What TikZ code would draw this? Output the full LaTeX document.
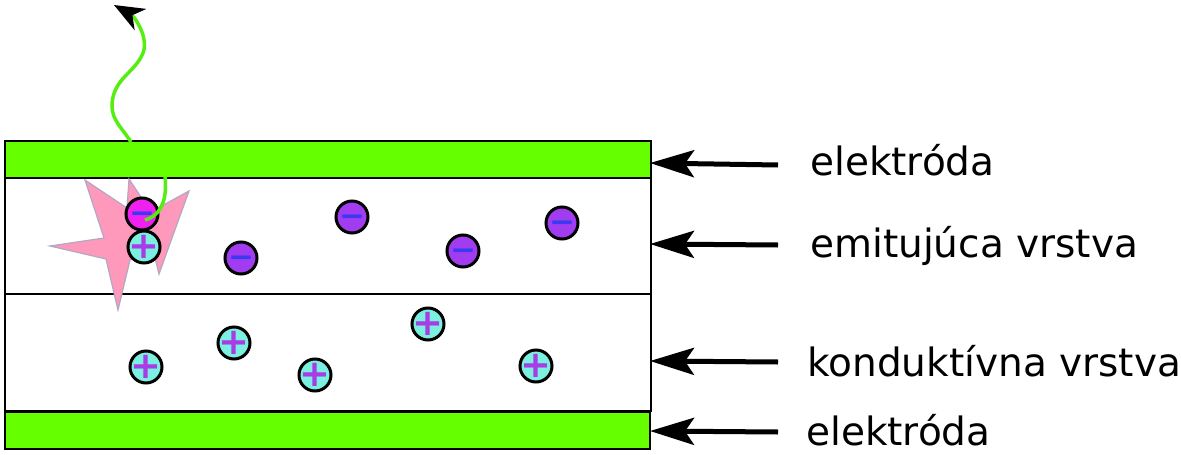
\documentclass[tikz,border=0pt]{standalone}
\usepackage{fontspec}
\setmainfont{DejaVu Sans}
\usetikzlibrary{arrows.meta}
\definecolor{elecgreen}{HTML}{66FF00}
\definecolor{wavegreen}{HTML}{55EE11}
\definecolor{flashpink}{HTML}{FF99BB}
\definecolor{flashedge}{HTML}{B0A8C4}
\definecolor{negfill}{HTML}{A23CF0}
\definecolor{negsign}{HTML}{3A3AF0}
\definecolor{posfill}{HTML}{7CF0E0}
\definecolor{possign}{HTML}{A83CE6}
\definecolor{hotfill}{HTML}{F020F0}
\newcommand{\sgn}[1]{\makebox[0pt]{\raisebox{-0.313em}[0pt][0pt]{#1}}}
\tikzset{
  electrode/.style={draw=black, line width=2.2pt, fill=elecgreen, inner sep=0pt, minimum height=37pt},
  layer/.style={draw=black, line width=1.8pt, fill=white, inner sep=0pt, minimum width=646pt, minimum height=117pt},
  charge/.style={draw=black, circle, line width=3pt, inner sep=0pt, minimum size=32pt},
  negq/.style={charge, fill=negfill, text=negsign, font=\fontsize{31}{31}\bfseries},
  posq/.style={charge, fill=posfill, text=possign, font=\fontsize{37}{37}\bfseries},
  lbl/.style={anchor=base west, inner sep=0pt, font=\fontsize{39}{40}\selectfont},
  pointer/.style={draw=black, line width=5pt, -{Stealth[length=44pt, width=27pt, inset=9pt]}},
  wave/.style={draw=wavegreen, line width=3.5pt}
}
\begin{document}
\begin{tikzpicture}[x=1pt, y=-1pt]
  \useasboundingbox (0,0) rectangle (1181,455);
  \begin{scope}
    \node[layer] (emit) at (328,236) {};
    \node[layer] (cond) at (328,352.5) {};
    \node[electrode, minimum width=646pt] (eltop) at (328,159.5) {};
    \node[electrode, minimum width=645pt] (elbot) at (327.5,430.5) {};
  \end{scope}
  % flash
  \draw[flashedge, fill=flashpink, line width=1.2pt, line join=miter] (50,246) -- (104,238) -- (85,180) -- (127,208) -- (129,179) -- (143,200) -- (158,208) -- (189,191) -- (159,274) -- (153,250) -- (130,260) -- (118,310) -- (106,259) -- cycle;
  % charges
  \begin{scope}
    \node[negq, fill=hotfill] (n1) at (142,214) {\sgn{−}};
    \node[negq] (n2) at (352,217) {\sgn{−}};
    \node[negq] (n3) at (241,258) {\sgn{−}};
    \node[negq] (n4) at (463,251) {\sgn{−}};
    \node[negq] (n5) at (562,223) {\sgn{−}};
    \node[posq] (p1) at (144,247) {\sgn{+}};
    \node[posq] (p2) at (146,367) {\sgn{+}};
    \node[posq] (p3) at (234,343) {\sgn{+}};
    \node[posq] (p4) at (315,375) {\sgn{+}};
    \node[posq] (p5) at (428,324) {\sgn{+}};
    \node[posq] (p6) at (536,366) {\sgn{+}};
  \end{scope}
  % photon
  \coordinate (in) at (165,177);
  \coordinate (out) at (131,142);
  \coordinate (tip) at (114,5);
  \draw[wave] (n1.center) ++(3,6) .. controls (157,217) and (168,205) .. (in);
  \draw[wave, -{Stealth[length=30pt, width=24pt, inset=9pt, color=black]}] (out) .. controls (122,128) and (112,120) .. (112,106) .. controls (112,86) and (126,76) .. (133,68) .. controls (142,58) and (146,50) .. (144,40) .. controls (143,30) and (134,16) .. (tip);
  % labels
  \node[lbl] (l1) at (810,175) {elektróda};
  \node[lbl] (l2) at (810,257) {emitujúca vrstva};
  \node[lbl] (l3) at (807,376) {konduktívna vrstva};
  \node[lbl] (l4) at (806,445) {elektróda};
  % pointers
  \coordinate (a1) at (778,165);
  \coordinate (a2) at (778,245);
  \coordinate (a3) at (778,362);
  \coordinate (a4) at (778,432);
  \coordinate (b1) at (650,163);
  \coordinate (b2) at (650,244);
  \coordinate (b3) at (650,361);
  \coordinate (b4) at (650,431);
  \begin{scope}[every edge/.style={pointer}]
    \path (a1) edge (b1);
    \path (a2) edge (b2);
    \path (a3) edge (b3);
    \path (a4) edge (b4);
  \end{scope}
\end{tikzpicture}
\end{document}
